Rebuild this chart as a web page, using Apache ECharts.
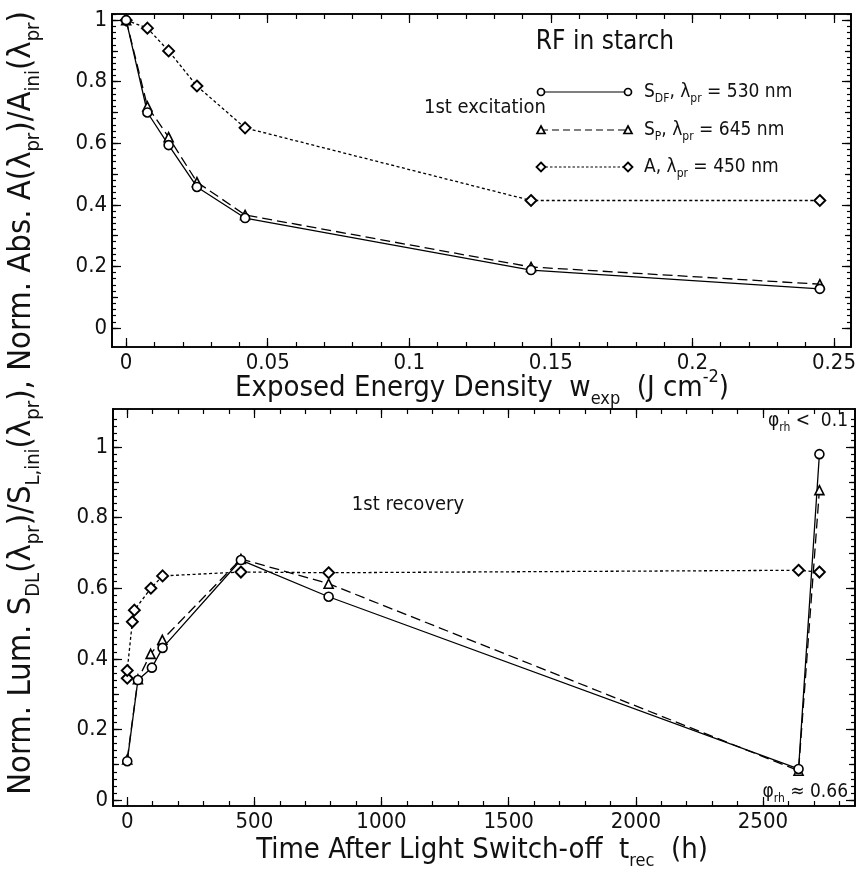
<!DOCTYPE html>
<html>
<head>
<meta charset="utf-8">
<script src="https://cdn.jsdelivr.net/npm/echarts@6/dist/echarts.min.js"></script>
<style>
html,body{margin:0;padding:0;background:#fff;}
#c{width:859px;height:875px;}
</style>
</head>
<body>
<div id="c"></div>
<script>
// ---------- data: top panel (1st excitation) ----------
const topEnergy = [0, 0.0075, 0.015, 0.025, 0.042, 0.143, 0.245];
const topSDF    = [1.0, 0.700, 0.594, 0.458, 0.357, 0.188, 0.127];
const topSP     = [1.0, 0.720, 0.620, 0.474, 0.367, 0.198, 0.142];
const topA      = [1.0, 0.974, 0.900, 0.786, 0.650, 0.414, 0.414];

// ---------- data: bottom panel (1st recovery) ----------
const botTimeSDF = [0, 42, 97, 139, 447, 792, 2640, 2722];
const botSDF     = [0.110, 0.340, 0.375, 0.431, 0.680, 0.576, 0.088, 0.980];
const botTimeSP  = [0, 42, 92, 138, 447, 792, 2640, 2722];
const botSP      = [0.115, 0.342, 0.414, 0.454, 0.683, 0.613, 0.083, 0.878];
const botTimeA   = [0, 0, 20, 28, 93, 139, 447, 792, 2640, 2722];
const botA       = [0.345, 0.367, 0.505, 0.538, 0.600, 0.635, 0.646, 0.644, 0.651, 0.646];

// ---------- tick labels ----------
const topXTicks = [0, 0.05, 0.1, 0.15, 0.2, 0.25];
const botXTicks = [0, 500, 1000, 1500, 2000, 2500];
const yTicks    = [0, 0.2, 0.4, 0.6, 0.8, 1];

const FONT = '"Liberation Sans Narrow", "DejaVu Sans Condensed", sans-serif';

function range(a, b, step) {
  const out = [];
  const n = Math.round((b - a) / step);
  for (let i = 0; i <= n; i++) out.push(+(a + i * step).toFixed(6));
  return out;
}
const topXMinor = range(0, 0.25, 0.01);
const botXMinor = range(0, 2800, 100);
const yMinor = range(0, 1.08, 0.02);
const yMid = range(0, 1.0, 0.1);

function pair(a, b) { return a.map((v, i) => [v, b[i]]); }

const AX = {color: '#000', width: 1.5};
function axis(gridIndex, position, min, max, vals, len, labels) {
  return {
    type: 'value', gridIndex, position, min, max,
    axisLine: {show: true, onZero: false, lineStyle: AX},
    axisTick: {show: true, inside: true, length: len, customValues: vals, lineStyle: {color: '#000', width: 1.2}},
    axisLabel: {show: !!labels, customValues: vals, color: '#111', fontFamily: FONT, fontSize: 22, margin: 5,
                formatter: v => String(v)},
    splitLine: {show: false}
  };
}

const TX = [-0.005, 0.256], TY = [-0.062, 1.02];
const BX = [-56, 2862], BY = [-0.017, 1.108];

const xAxes = [
  axis(0, 'bottom', TX[0], TX[1], topXTicks, 9, true),   // 0
  axis(0, 'bottom', TX[0], TX[1], topXMinor, 5, false),  // 1
  axis(0, 'top', TX[0], TX[1], topXTicks, 9, false),     // 2
  axis(0, 'top', TX[0], TX[1], topXMinor, 5, false),     // 3
  axis(1, 'bottom', BX[0], BX[1], botXTicks, 9, true),   // 4
  axis(1, 'bottom', BX[0], BX[1], botXMinor, 5, false),  // 5
  axis(1, 'top', BX[0], BX[1], botXTicks, 9, false),     // 6
  axis(1, 'top', BX[0], BX[1], botXMinor, 5, false)      // 7
];
const yAxes = [
  axis(0, 'left', TY[0], TY[1], yTicks, 9, true),   // 0
  axis(0, 'left', TY[0], TY[1], yMid, 6, false),    // 1
  axis(0, 'left', TY[0], TY[1], yMinor, 4, false),  // 2
  axis(0, 'right', TY[0], TY[1], yTicks, 9, false), // 3
  axis(0, 'right', TY[0], TY[1], yMid, 6, false),   // 4
  axis(0, 'right', TY[0], TY[1], yMinor, 4, false), // 5
  axis(1, 'left', BY[0], BY[1], yTicks, 9, true),   // 6
  axis(1, 'left', BY[0], BY[1], yMid, 6, false),    // 7
  axis(1, 'left', BY[0], BY[1], yMinor, 4, false),  // 8
  axis(1, 'right', BY[0], BY[1], yTicks, 9, false), // 9
  axis(1, 'right', BY[0], BY[1], yMid, 6, false),   // 10
  axis(1, 'right', BY[0], BY[1], yMinor, 4, false)  // 11
];

function ser(name, data, xi, yi, symbol, size, dash, sw) {
  return {
    name, type: 'line', data, xAxisIndex: xi, yAxisIndex: yi,
    symbol, symbolSize: size, showAllSymbol: true, animation: false,
    lineStyle: {color: '#000', width: 1.3, type: dash},
    itemStyle: {color: '#fff', borderColor: '#000', borderWidth: sw},
    z: 3
  };
}

const series = [
  ser('A', pair(topEnergy, topA), 0, 0, 'diamond', 11, [3, 2.5], 1.9),
  ser('SP', pair(topEnergy, topSP), 0, 0, 'triangle', 9, [10, 5], 1.6),
  ser('SDF', pair(topEnergy, topSDF), 0, 0, 'circle', 9, 'solid', 1.6),
  ser('A2', pair(botTimeA, botA), 4, 6, 'diamond', 11, [3, 2.5], 1.9),
  ser('SP2', pair(botTimeSP, botSP), 4, 6, 'triangle', 9, [10, 5], 1.6),
  ser('SDF2', pair(botTimeSDF, botSDF), 4, 6, 'circle', 9, 'solid', 1.6)
];

function mkRich(fs, ss, lh) {
  return {
    n: {fontFamily: FONT, fontSize: fs, lineHeight: lh, verticalAlign: 'middle', fill: '#111'},
    s: {fontFamily: FONT, fontSize: ss, lineHeight: lh, verticalAlign: 'bottom', fill: '#111'},
    u: {fontFamily: FONT, fontSize: ss, lineHeight: lh, verticalAlign: 'top', fill: '#111'}
  };
}
const richY = mkRich(32.5, 20, 44);
const richX = mkRich(29, 18, 40);
const richL = mkRich(19, 12, 26);

function txt(x, y, text, rich, align, r) {
  return {type: 'text', x, y, rotation: r || 0, z: 10,
    style: {text, rich, fontFamily: FONT, fill: '#111', align: align || 'center', verticalAlign: 'middle'}};
}

const yTitle = '{n|Norm. Lum. S}{s|DL}{n|(λ}{s|pr}{n|)/S}{s|L,ini}{n|(λ}{s|pr}{n|), Norm. Abs. A(λ}{s|pr}{n|)/A}{s|ini}{n|(λ}{s|pr}{n|)}';
const topTitle = '{n|Exposed Energy Density  w}{s|exp}{n|  (J cm}{u|-2}{n|)}';
const botTitle = '{n|Time After Light Switch-off  t}{s|rec}{n|  (h)}';

// legend samples
function legendRow(y, label, kind, dash) {
  const x1 = 541, x2 = 628;
  const els = [{type: 'line', z: 10, shape: {x1, y1: y, x2, y2: y}, style: {stroke: '#000', lineWidth: 1.2, lineDash: dash}}];
  [x1, x2].forEach(x => {
    if (kind === 'circle') els.push({type: 'circle', z: 11, shape: {cx: x, cy: y, r: 3.5}, style: {fill: '#fff', stroke: '#000', lineWidth: 1.7}});
    else if (kind === 'triangle') els.push({type: 'polygon', z: 11, shape: {points: [[x, y - 4], [x + 4, y + 3.5], [x - 4, y + 3.5]]}, style: {fill: '#fff', stroke: '#000', lineWidth: 1.7}});
    else els.push({type: 'polygon', z: 11, shape: {points: [[x, y - 4.5], [x + 4.5, y], [x, y + 4.5], [x - 4.5, y]]}, style: {fill: '#fff', stroke: '#000', lineWidth: 1.8}});
  });
  els.push(txt(644, y, label, richL, 'left'));
  return els;
}

const graphic = [
  txt(22, 403, yTitle, richY, 'center', Math.PI / 2),
  txt(482, 388, topTitle, richX, 'center'),
  txt(482, 850, botTitle, richX, 'center'),
  {type: 'text', x: 605, y: 42, z: 10, style: {text: 'RF in starch', fontFamily: FONT, fontSize: 26, fill: '#111', align: 'center', verticalAlign: 'middle'}},
  {type: 'text', x: 485, y: 108, z: 10, style: {text: '1st excitation', fontFamily: FONT, fontSize: 20, fill: '#111', align: 'center', verticalAlign: 'middle'}},
  {type: 'text', x: 408, y: 505, z: 10, style: {text: '1st recovery', fontFamily: FONT, fontSize: 20, fill: '#111', align: 'center', verticalAlign: 'middle'}},
  txt(848, 421, '{n|φ}{s|rh}{n| <  0.1}', richL, 'right'),
  txt(848, 792, '{n|φ}{s|rh}{n| ≈ 0.66}', richL, 'right')
].concat(
  legendRow(92, '{n|S}{s|DF}{n|, λ}{s|pr}{n| = 530 nm}', 'circle', null),
  legendRow(130, '{n|S}{s|P}{n|, λ}{s|pr}{n| = 645 nm}', 'triangle', [7, 4]),
  legendRow(167, '{n|A, λ}{s|pr}{n| = 450 nm}', 'diamond', [2.5, 2])
);

const chart = echarts.init(document.getElementById('c'), null, {renderer: 'canvas'});
chart.setOption({
  animation: false,
  backgroundColor: '#fff',
  grid: [
    {left: 112, top: 14, width: 743, height: 333},
    {left: 113, top: 409, width: 742, height: 397}
  ],
  xAxis: xAxes,
  yAxis: yAxes,
  series,
  graphic
});
</script>
</body>
</html>
